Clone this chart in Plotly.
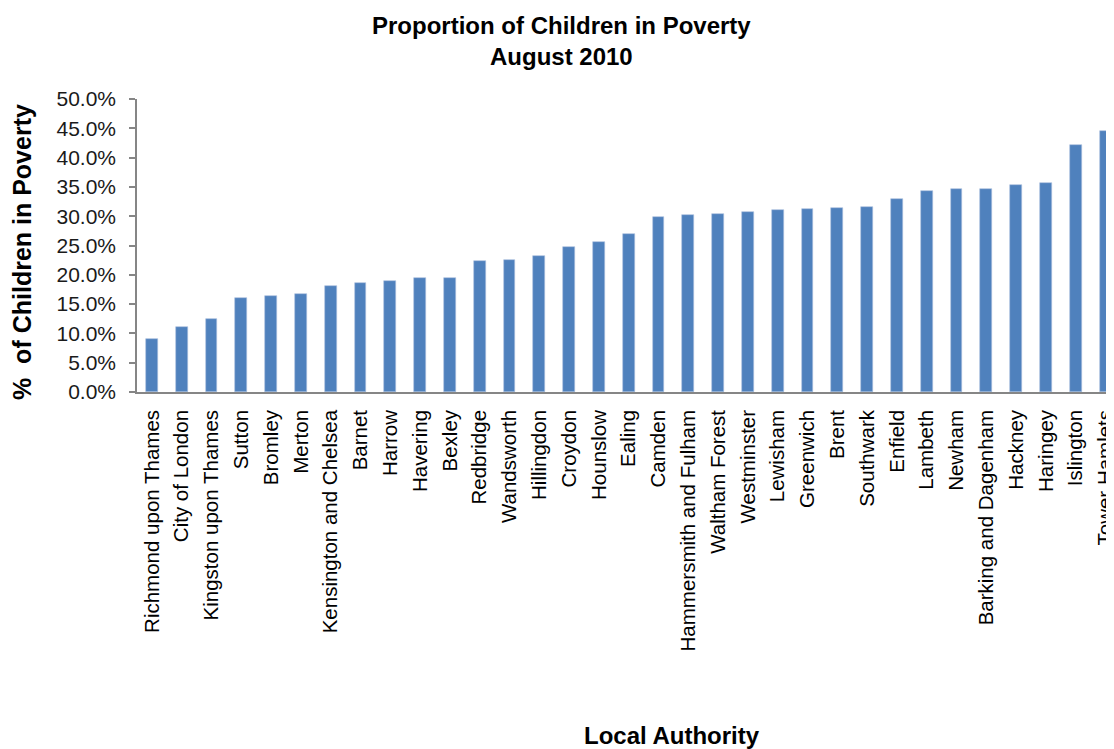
import plotly.graph_objects as go

categories = [
    "Richmond upon Thames", "City of London", "Kingston upon Thames", "Sutton",
    "Bromley", "Merton", "Kensington and Chelsea", "Barnet", "Harrow", "Havering",
    "Bexley", "Redbridge", "Wandsworth", "Hillingdon", "Croydon", "Hounslow",
    "Ealing", "Camden", "Hammersmith and Fulham", "Waltham Forest", "Westminster",
    "Lewisham", "Greenwich", "Brent", "Southwark", "Enfield", "Lambeth", "Newham",
    "Barking and Dagenham", "Hackney", "Haringey", "Islington", "Tower Hamlets",
]
values = [
    0.091, 0.111, 0.124, 0.161, 0.163, 0.167, 0.181, 0.186, 0.190, 0.195,
    0.195, 0.223, 0.226, 0.232, 0.248, 0.256, 0.269, 0.298, 0.302, 0.304,
    0.308, 0.310, 0.312, 0.314, 0.316, 0.329, 0.343, 0.347, 0.347, 0.354,
    0.357, 0.421, 0.446,
]
y_ticks = [0.0, 0.05, 0.10, 0.15, 0.20, 0.25, 0.30, 0.35, 0.40, 0.45, 0.50]

FONT = "Liberation Sans, Arial, sans-serif"

# page offset (body margin) compensation
OFF = 8
PAGE_W, PAGE_H = 1114, 749
PL, PT, PB = 137, 99, 392          # plot area in page pixels
W, H = PAGE_W - OFF, PAGE_H - OFF
L, T = PL - OFF, PT - OFF
B = H - (PB - OFF)
plot_w = W - L
plot_h = H - T - B


def px(x):
    return (x - PL) / plot_w


def py(y):
    return (PB - y) / plot_h


fig = go.Figure(go.Bar(
    x=list(range(len(categories))),
    y=values,
    width=0.39,
    marker=dict(color="#4F81BD", line=dict(width=0.6, color="#A9C0DE")),
))

fig.update_layout(
    width=W, height=H,
    margin=dict(l=L, r=0, t=T, b=B, pad=0),
    paper_bgcolor="white", plot_bgcolor="white",
    showlegend=False,
    bargap=0,
    font=dict(family=FONT, color="black"),
    xaxis=dict(
        range=[-0.5, -0.5 + plot_w / 29.8],
        tickmode="array",
        tickvals=list(range(len(categories))),
        ticktext=categories,
        tickangle=-90,
        tickfont=dict(size=20.5, family=FONT, color="black"),
        ticklabelstandoff=8,
        ticklabeloverflow="allow",
        showline=True, linecolor="#868686", linewidth=1.5,
        ticks="", showgrid=False, zeroline=False,
        automargin=False, fixedrange=True,
    ),
    yaxis=dict(
        range=[0, 0.5],
        tickmode="array",
        tickvals=y_ticks,
        tickformat=".1%",
        tickfont=dict(size=21, family=FONT, color="#1a1a1a"),
        ticklabelstandoff=9,
        showline=True, linecolor="#868686", linewidth=1.5,
        ticks="outside", ticklen=6, tickcolor="#868686", tickwidth=1.5,
        showgrid=False, zeroline=False,
        automargin=False, fixedrange=True,
    ),
    annotations=[
        dict(
            text="<b>Proportion of Children in Poverty<br>August 2010</b>",
            xref="paper", yref="paper",
            x=px(561), y=py(41),
            xanchor="center", yanchor="middle",
            showarrow=False, font=dict(size=24, family=FONT, color="black"),
        ),
        dict(
            text="<b>%  of Children in Poverty</b>",
            xref="paper", yref="paper",
            x=px(22), y=py(252),
            xanchor="center", yanchor="middle", textangle=-90,
            showarrow=False, font=dict(size=25, family=FONT, color="black"),
        ),
        dict(
            text="<b>Local Authority</b>",
            xref="paper", yref="paper",
            x=px(672), y=py(736),
            xanchor="center", yanchor="middle",
            showarrow=False, font=dict(size=24, family=FONT, color="black"),
        ),
    ],
)

fig.write_html("out.html")
